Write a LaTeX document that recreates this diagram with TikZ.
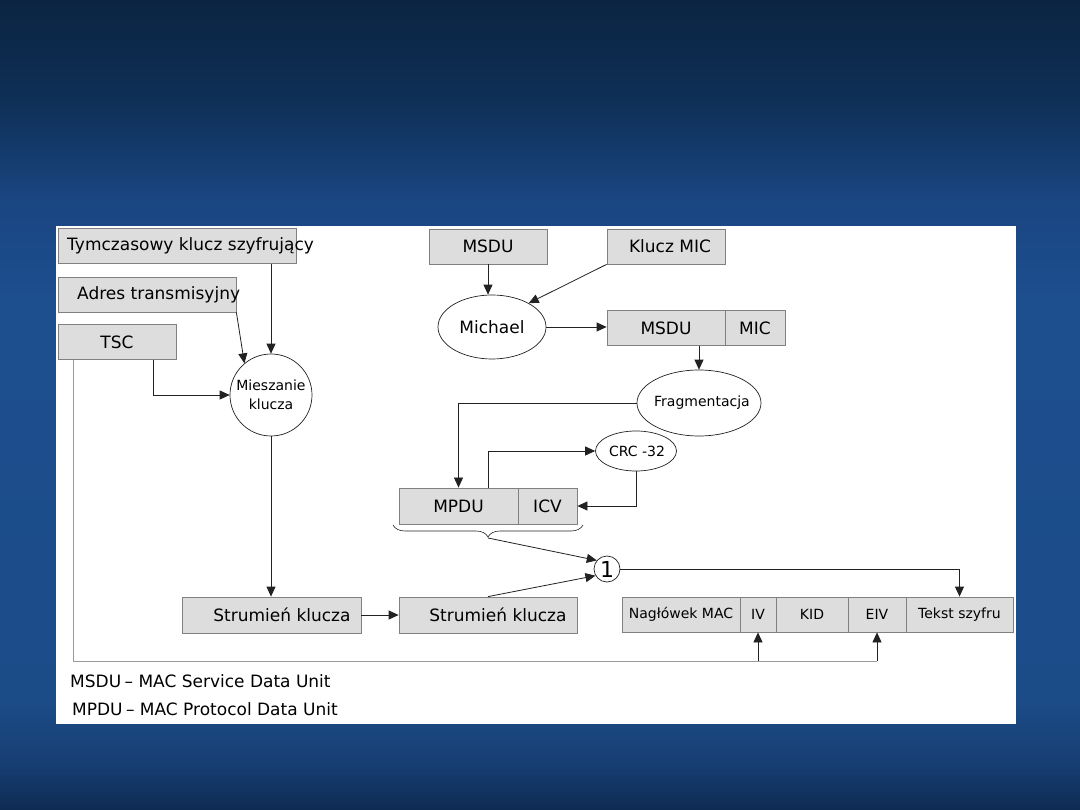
\documentclass[tikz,border=0pt]{standalone}
\usepackage{fontspec}
\setmainfont{DejaVu Sans}
\usetikzlibrary{arrows.meta,shapes.geometric,decorations.pathreplacing}
\definecolor{boxfill}{HTML}{DDDDDD}
\definecolor{boxline}{HTML}{808080}
\definecolor{lineclr}{HTML}{222222}
\definecolor{busclr}{HTML}{9A9A9A}
\definecolor{bgA}{HTML}{0E2B53}
\definecolor{bgB}{HTML}{173F74}
\definecolor{bgC}{HTML}{1C4C88}
\definecolor{bgD}{HTML}{1D4E8E}
\definecolor{bgE}{HTML}{1A4682}
\definecolor{bgF}{HTML}{0E2F55}
\definecolor{bgG}{HTML}{0B2442}
\pgfdeclareverticalshading{bgshade}{100bp}{color(0bp)=(bgA); color(25bp)=(bgA); color(28bp)=(bgB); color(32bp)=(bgC); color(56.5bp)=(bgD); color(62.5bp)=(bgE); color(69bp)=(bgF); color(75bp)=(bgG); color(100bp)=(bgG)}
\newcommand\fbig{\fontsize{17}{20}\selectfont}
\newcommand\fsmall{\fontsize{14}{19}\selectfont}
\newcommand\fnum{\fontsize{22}{24}\selectfont}
\tikzset{
  box/.style={draw=boxline, fill=boxfill, line width=0.8pt, minimum height=35pt, inner sep=0pt, font=\fbig},
  sbox/.style={box, font=\fsmall},
  lbl/.style={inner sep=0pt, font=\fbig},
  ell/.style={ellipse, draw=lineclr, fill=white, line width=0.7pt, inner sep=0pt},
  conn/.style={draw=lineclr, line width=0.8pt},
  arr/.style={conn, -{Triangle[length=10pt,width=9pt]}},
  bus/.style={draw=busclr, line width=1pt}
}
\begin{document}
\begin{tikzpicture}[x=1pt,y=-1pt]
\useasboundingbox (0,0) rectangle (1080,810);
\shade[shading=bgshade] (0,0) rectangle (1080,810);
\fill[white] (56,226) rectangle (1016,724);

% left column
\node[box, minimum width=238] (tk) at (177,246) {};
\node[lbl, anchor=west] (tkt) at (67,246) {Tymczasowy klucz szyfrujący};
\node[box, minimum width=178] (ad) at (147,294.5) {};
\node[lbl, anchor=west] (adt) at (77,294.5) {Adres transmisyjny};
\node[box, minimum width=118] (tsc) at (117,342) {TSC};
\node[circle, draw=lineclr, fill=white, line width=0.7pt, minimum size=82pt, inner sep=0pt, align=center, font=\fsmall] (mk) at (271,395) {Mieszanie\\klucza};

% top middle
\node[box, minimum width=118] (msdu) at (488,246.5) {MSDU};
\node[box, minimum width=118] (kmic) at (666,246.5) {};
\node[lbl] (kmict) at (670,246.5) {Klucz MIC};
\node[ell, minimum width=108pt, minimum height=64pt, font=\fbig] (mich) at (492,327) {Michael};
\node[box, minimum width=118] (msdu2) at (666,328) {MSDU};
\node[box, minimum width=60] (mic) at (755,328) {MIC};
\node[ell, minimum width=124pt, minimum height=66pt] (frag) at (699,403) {};
\node[inner sep=0pt, font=\fsmall] (fragt) at (702,403) {Fragmentacja};
\node[ell, minimum width=81pt, minimum height=40pt] (crc) at (636,451) {};
\node[inner sep=0pt, font=\fsmall] (crct) at (637,451) {CRC -32};
\node[box, minimum width=119, minimum height=36pt] (mpdu) at (458.5,506) {MPDU};
\node[box, minimum width=59, minimum height=36pt] (icv) at (547.5,506) {ICV};

% key stream
\node[box, minimum width=179, minimum height=36pt] (s1) at (271.5,615) {};
\node[lbl] (s1t) at (282,615) {Strumień klucza};
\node[box, minimum width=178, minimum height=36pt] (s2) at (488,615) {};
\node[lbl] (s2t) at (498,615) {Strumień klucza};
\node[circle, draw=lineclr, fill=white, line width=0.7pt, minimum size=26pt, inner sep=0pt, font=\fnum] (one) at (607,569) {1};

% output frame
\node[sbox, minimum width=118] (nag) at (681,614.5) {Nagłówek MAC};
\node[sbox, minimum width=36] (iv) at (758,614.5) {IV};
\node[sbox, minimum width=72] (kid) at (812,614.5) {KID};
\node[sbox, minimum width=58] (eiv) at (877,614.5) {EIV};
\node[sbox, minimum width=107] (tekst) at (959.5,614.5) {Tekst szyfru};

% legend
\node[lbl, anchor=west] (leg1) at (70,681) {MSDU\hspace{-2pt} – MAC Service Data Unit};
\node[lbl, anchor=west] (leg2) at (72,709) {MPDU\hspace{-2pt} – MAC Protocol Data Unit};

% connectors
\draw[arr] (mk.north |- tk.south) -- (mk.north);
\draw[arr] (ad.south east) -- (mk.130);
\draw[arr] ([xshift=36pt]tsc.south) |- (mk.west);
\draw[arr] (mk.south) -- (mk.south |- s1.north);
\draw[arr] (s1.east) -- (s2.west);
\draw[arr] (s2.north) -- (one.210);

\draw[arr] (msdu.south) -- (msdu.south |- mich.north);
\draw[arr] (kmic.south west) -- (mich.33);
\draw[arr] (mich.east) -- (mich.east -| msdu2.west);
\draw[arr] (frag.north |- msdu2.south) -- (frag.north);
\draw[arr] (frag.west) -| (mpdu.north);
\draw[arr] ([xshift=29.5pt]mpdu.north) |- (crc.west);
\draw[arr] (crc.south) |- (icv.east);

\draw[conn, line width=0.6pt, decorate, decoration={brace, amplitude=12pt}] (583,525) -- (393,525);
\coordinate (brtip) at (488,538);
\draw[arr] (brtip) -- (one.140);
\draw[arr] (one.east) -| (tekst.north);

\coordinate (busL) at ([xshift=-44pt]tsc.south);
\draw[bus] (busL) |- (eiv.south |- 0,661) coordinate (busR);
\draw[arr] (busR) -- (eiv.south);
\draw[arr] (iv.south |- 0,661) -- (iv.south);
\end{tikzpicture}
\end{document}
